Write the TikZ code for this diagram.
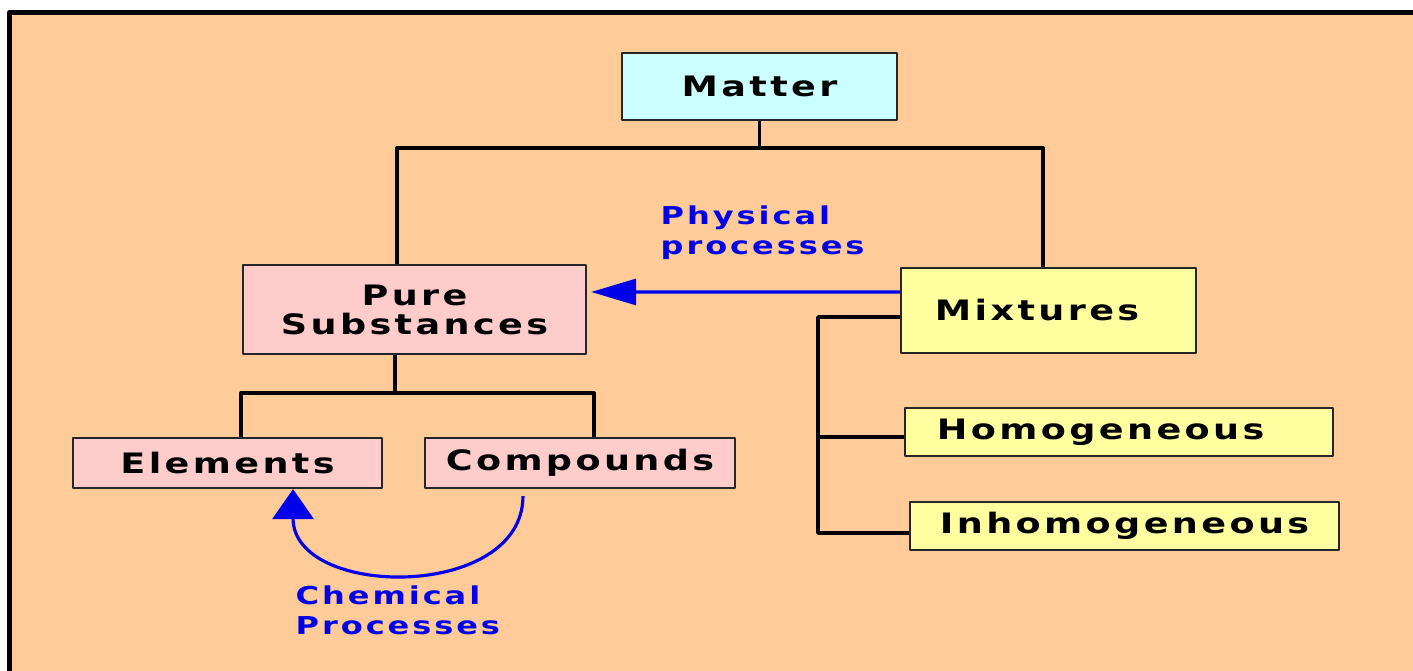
\documentclass[tikz,border=0pt]{standalone}
\usepackage{fontspec}
\usetikzlibrary{arrows.meta}
\newfontfamily\chartfont{DejaVu Sans}[FakeStretch=1.3,LetterSpace=12]
\definecolor{peach}{RGB}{255,203,152}
\definecolor{skyfill}{RGB}{204,255,255}
\definecolor{rosefill}{RGB}{255,204,204}
\definecolor{lemonfill}{RGB}{255,255,160}
\definecolor{inkblue}{RGB}{0,0,235}
\begin{document}
\begin{tikzpicture}[x=0.01cm,y=-0.01cm,line join=round,
	box/.style={draw=black!85,line width=0.6pt,inner sep=0pt,align=center,font=\chartfont\bfseries\fontsize{8}{8.25}\selectfont},
	skybox/.style={box,fill=skyfill},
	rosebox/.style={box,fill=rosefill},
	lemonbox/.style={box,fill=lemonfill,align=left},
	tree/.style={line width=1.1pt,black},
	flow/.style={line width=0.9pt,inkblue},
	note/.style={inkblue,inner sep=0pt,align=left,anchor=north west,font=\chartfont\bfseries\fontsize{7}{8.5}\selectfont}]
	\useasboundingbox (0,0) rectangle (1413,671);
	% frame
	\fill[peach] (12,13) rectangle (1413,671);
	\draw[line width=1.3pt] (9.5,671) -- (9.5,12.5) -- (1413,12.5);
	% boxes
	\node[skybox,minimum width=2.75cm,minimum height=0.67cm] (Matter) at (759.5,86.5) {Matter};
	\node[rosebox,minimum width=3.43cm,minimum height=0.89cm] (Pure) at (414.5,309.5) {Pure\\Substances};
	\node[rosebox,minimum width=3.09cm,minimum height=0.5cm] (Elem) at (227.5,463) {Elements};
	\node[rosebox,minimum width=3.10cm,minimum height=0.5cm] (Comp) at (580,463) {Compounds};
	\node[lemonbox,inner xsep=0.34cm,text width=2.27cm,minimum height=0.85cm] (Mix) at (1048.5,310.5) {Mixtures};
	\node[lemonbox,inner xsep=0.32cm,text width=3.64cm,minimum height=0.48cm] (Homo) at (1119,432) {Homogeneous};
	\node[lemonbox,inner xsep=0.30cm,text width=3.69cm,minimum height=0.48cm] (Inhomo) at (1124.5,526) {Inhomogeneous};
	% tree lines
	\path (397,148) coordinate (busL) (1043,148) coordinate (busR)
	(395,393) coordinate (pureL) (241,393) coordinate (elemT) (594,393) coordinate (compT)
	(818,317) coordinate (mixL);
	\draw[tree] (Matter.south) -- (Matter.south |- busL);
	\draw[tree] (busL |- Pure.north) -- (busL) -- (busR) -- (busR |- Mix.north);
	\draw[tree] (pureL |- Pure.south) -- (pureL);
	\draw[tree] (elemT |- Elem.north) -- (elemT) -- (compT) -- (compT |- Comp.north);
	\draw[tree] (Mix.west |- mixL) -- (mixL) -- (mixL |- 0,533) -- ([yshift=-0.07cm]Inhomo.west);
	\draw[tree] (mixL |- 0,437) -- ([yshift=-0.05cm]Homo.west);
	% processes
	\draw[flow,-{Triangle[length=0.45cm,width=0.26cm]}] ([yshift=0.185cm]Mix.west) -- ([xshift=0.04cm,yshift=0.175cm]Pure.east);
	\draw[flow,-{Triangle[length=0.3cm,width=0.41cm]}] ([xshift=-0.57cm,yshift=-0.07cm]Comp.south) .. controls +(0,105) and +(0,110) .. ([xshift=0.655cm]Elem.south);
	\node[note] (phys) at (660,205) {Physical\\processes};
	\node[note] (chem) at (295,585) {Chemical\\Processes};
\end{tikzpicture}
\end{document}
